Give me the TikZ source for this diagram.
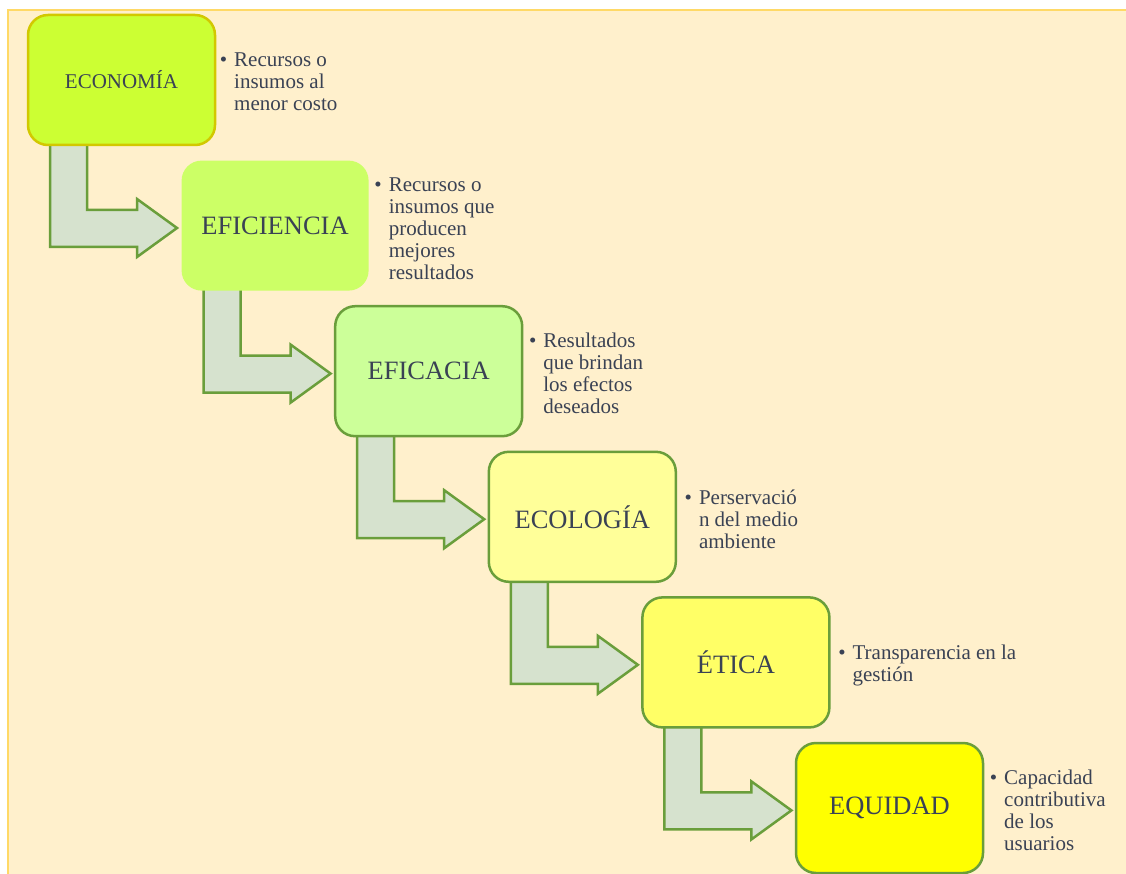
\documentclass[tikz,border=0pt]{standalone}
\usepackage{fontspec}
\setmainfont{Liberation Serif}
\usetikzlibrary{calc}
\definecolor{cream}{HTML}{FFF0CC}
\definecolor{frameline}{HTML}{FFD966}
\definecolor{ink}{HTML}{3A4254}
\definecolor{leaf}{HTML}{6A9E3B}
\definecolor{olive}{HTML}{D2C800}
\definecolor{shaft}{HTML}{D6E2CE}
\definecolor{fillA}{HTML}{CCFF33}
\definecolor{fillB}{HTML}{CCFF66}
\definecolor{fillC}{HTML}{CCFF99}
\definecolor{fillD}{HTML}{FFFF99}
\definecolor{fillE}{HTML}{FFFF66}
\definecolor{fillF}{HTML}{FFFF00}
\pgfdeclarelayer{bg}
\pgfdeclarelayer{arrows}
\pgfsetlayers{bg,arrows,main}
\begin{document}
\begin{tikzpicture}[x=1pt,y=-1pt,
  stagebox/.style={rounded corners=20, minimum width=187, minimum height=130,
    inner sep=0, outer sep=0, line width=2.5, draw=leaf, text=ink,
    font=\fontsize{26.5}{30}\selectfont, anchor=north west},
  desc/.style={align=left, anchor=west, inner sep=0, text=ink,
    font=\fontsize{21}{22}\selectfont},
  flowarrow/.style={fill=shaft, draw=leaf, line width=2.5, line join=miter}]
\useasboundingbox (0,0) rectangle (1126,874);
\begin{pgfonlayer}{bg}
  \fill[white] (0,0) rectangle (1126,874);
  \draw[draw=frameline, fill=cream, line width=2.5] (8,10) rectangle (1140,890);
\end{pgfonlayer}

% stages
\node[stagebox, fill=fillA, draw=olive, font=\fontsize{21}{24}\selectfont] (b1) at (28,15) {ECONOMÍA};
\node[stagebox, fill=fillB, draw=none] (b2) at (181.6,160.6) {EFICIENCIA};
\node[stagebox, fill=fillC] (b3) at (335.2,306.2) {EFICACIA};
\node[stagebox, fill=fillD] (b4) at (488.8,451.8) {ECOLOGÍA};
\node[stagebox, fill=fillE] (b5) at (642.4,597.4) {ÉTICA};
\node[stagebox, fill=fillF] (b6) at (796,743) {EQUIDAD};

% descriptions
\newcommand\itemdot{\llap{\textbullet\hspace{7pt}}}
\node[desc] (d1) at ($(b1.east)+(19,2)$) {\itemdot Recursos o\\insumos al\\menor costo};
\node[desc] (d2) at ($(b2.east)+(20,3)$) {\itemdot Recursos o\\insumos que\\producen\\mejores\\resultados};
\node[desc] (d3) at ($(b3.east)+(21,2)$) {\itemdot Resultados\\que brindan\\los efectos\\deseados};
\node[desc] (d4) at ($(b4.east)+(23,2)$) {\itemdot Perservació\\n del medio\\ambiente};
\node[desc] (d5) at ($(b5.east)+(23,3)$) {\itemdot Transparencia en la\\gestión};
\node[desc] (d6) at ($(b6.east)+(21,2)$) {\itemdot Capacidad\\contributiva\\de los\\usuarios};

% bent arrows between stages
\begin{pgfonlayer}{arrows}
\foreach \i in {1,...,5}{
  \draw[flowarrow] ($(b\i.south west)+(22,-5)$) -- ++(0,107) -- ++(87,0) -- ++(0,10)
    -- ++(40,-29) -- ++(-40,-29) -- ++(0,11) -- ++(-50,0) -- ++(0,-70) -- cycle;
}
\end{pgfonlayer}
\end{tikzpicture}
\end{document}
